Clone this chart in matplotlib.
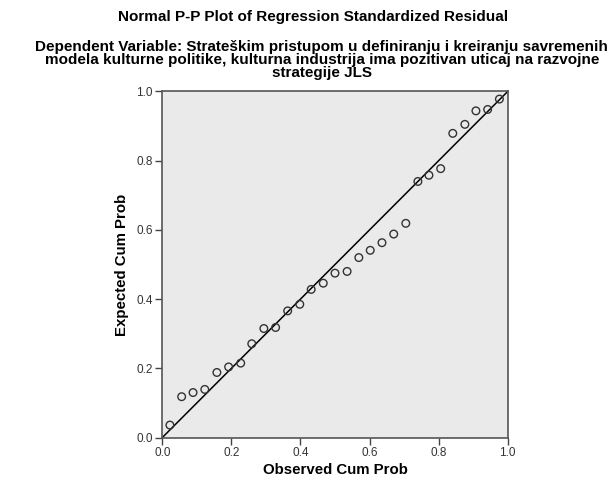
import numpy as np
import matplotlib.pyplot as plt

plt.rcParams['font.family'] = ['Liberation Sans', 'DejaVu Sans']

# observed vs expected cumulative probabilities
observed = [0.022, 0.056, 0.089, 0.123, 0.158, 0.192, 0.227, 0.259, 0.294, 0.328,
            0.363, 0.398, 0.431, 0.466, 0.500, 0.535, 0.569, 0.602, 0.636, 0.670,
            0.705, 0.740, 0.772, 0.806, 0.841, 0.876, 0.908, 0.942, 0.976]
expected = [0.036, 0.118, 0.130, 0.139, 0.188, 0.204, 0.215, 0.271, 0.315, 0.318,
            0.366, 0.385, 0.428, 0.446, 0.475, 0.480, 0.520, 0.541, 0.563, 0.588,
            0.619, 0.740, 0.758, 0.777, 0.879, 0.905, 0.944, 0.948, 0.978]
ticks = [0.0, 0.2, 0.4, 0.6, 0.8, 1.0]
tick_labels = ['0.0', '0.2', '0.4', '0.6', '0.8', '1.0']

fig = plt.figure(figsize=(6.07, 4.84), dpi=100)
ax = fig.add_axes([0.2674, 0.096, 0.569, 0.715])
ax.set_facecolor('#EAEAEA')

ax.plot([0, 1], [0, 1], color='black', lw=1.1, zorder=2)
ax.scatter(observed, expected, s=30, facecolors='none', edgecolors='#333333',
           linewidths=1.0, zorder=3)

ax.set_xlim(0, 1)
ax.set_ylim(0, 1)
ax.set_xticks(ticks)
ax.set_xticklabels(tick_labels)
ax.set_yticks(ticks)
ax.set_yticklabels(tick_labels)
ax.tick_params(direction='out', length=5, width=1, color='#444444',
               labelsize=8.5, labelcolor='#333333', pad=2)
for s in ax.spines.values():
    s.set_color('#555555')
    s.set_linewidth(1.2)

ax.set_xlabel('Observed Cum Prob', fontsize=10.8, fontweight='bold', labelpad=3)
ax.set_ylabel('Expected Cum Prob', fontsize=10.8, fontweight='bold', labelpad=5)

fig.text(0.516, 0.964, 'Normal P-P Plot of Regression Standardized Residual',
         ha='center', va='center', fontsize=11, fontweight='bold')
fig.text(0.53, 0.876,
         'Dependent Variable: Strateškim pristupom u definiranju i kreiranju savremenih\n'
         'modela kulturne politike, kulturna industrija ima pozitivan uticaj na razvojne\n'
         'strategije JLS',
         ha='center', va='center', fontsize=11, fontweight='bold', linespacing=0.95)

fig.savefig('out.png', dpi=100)
